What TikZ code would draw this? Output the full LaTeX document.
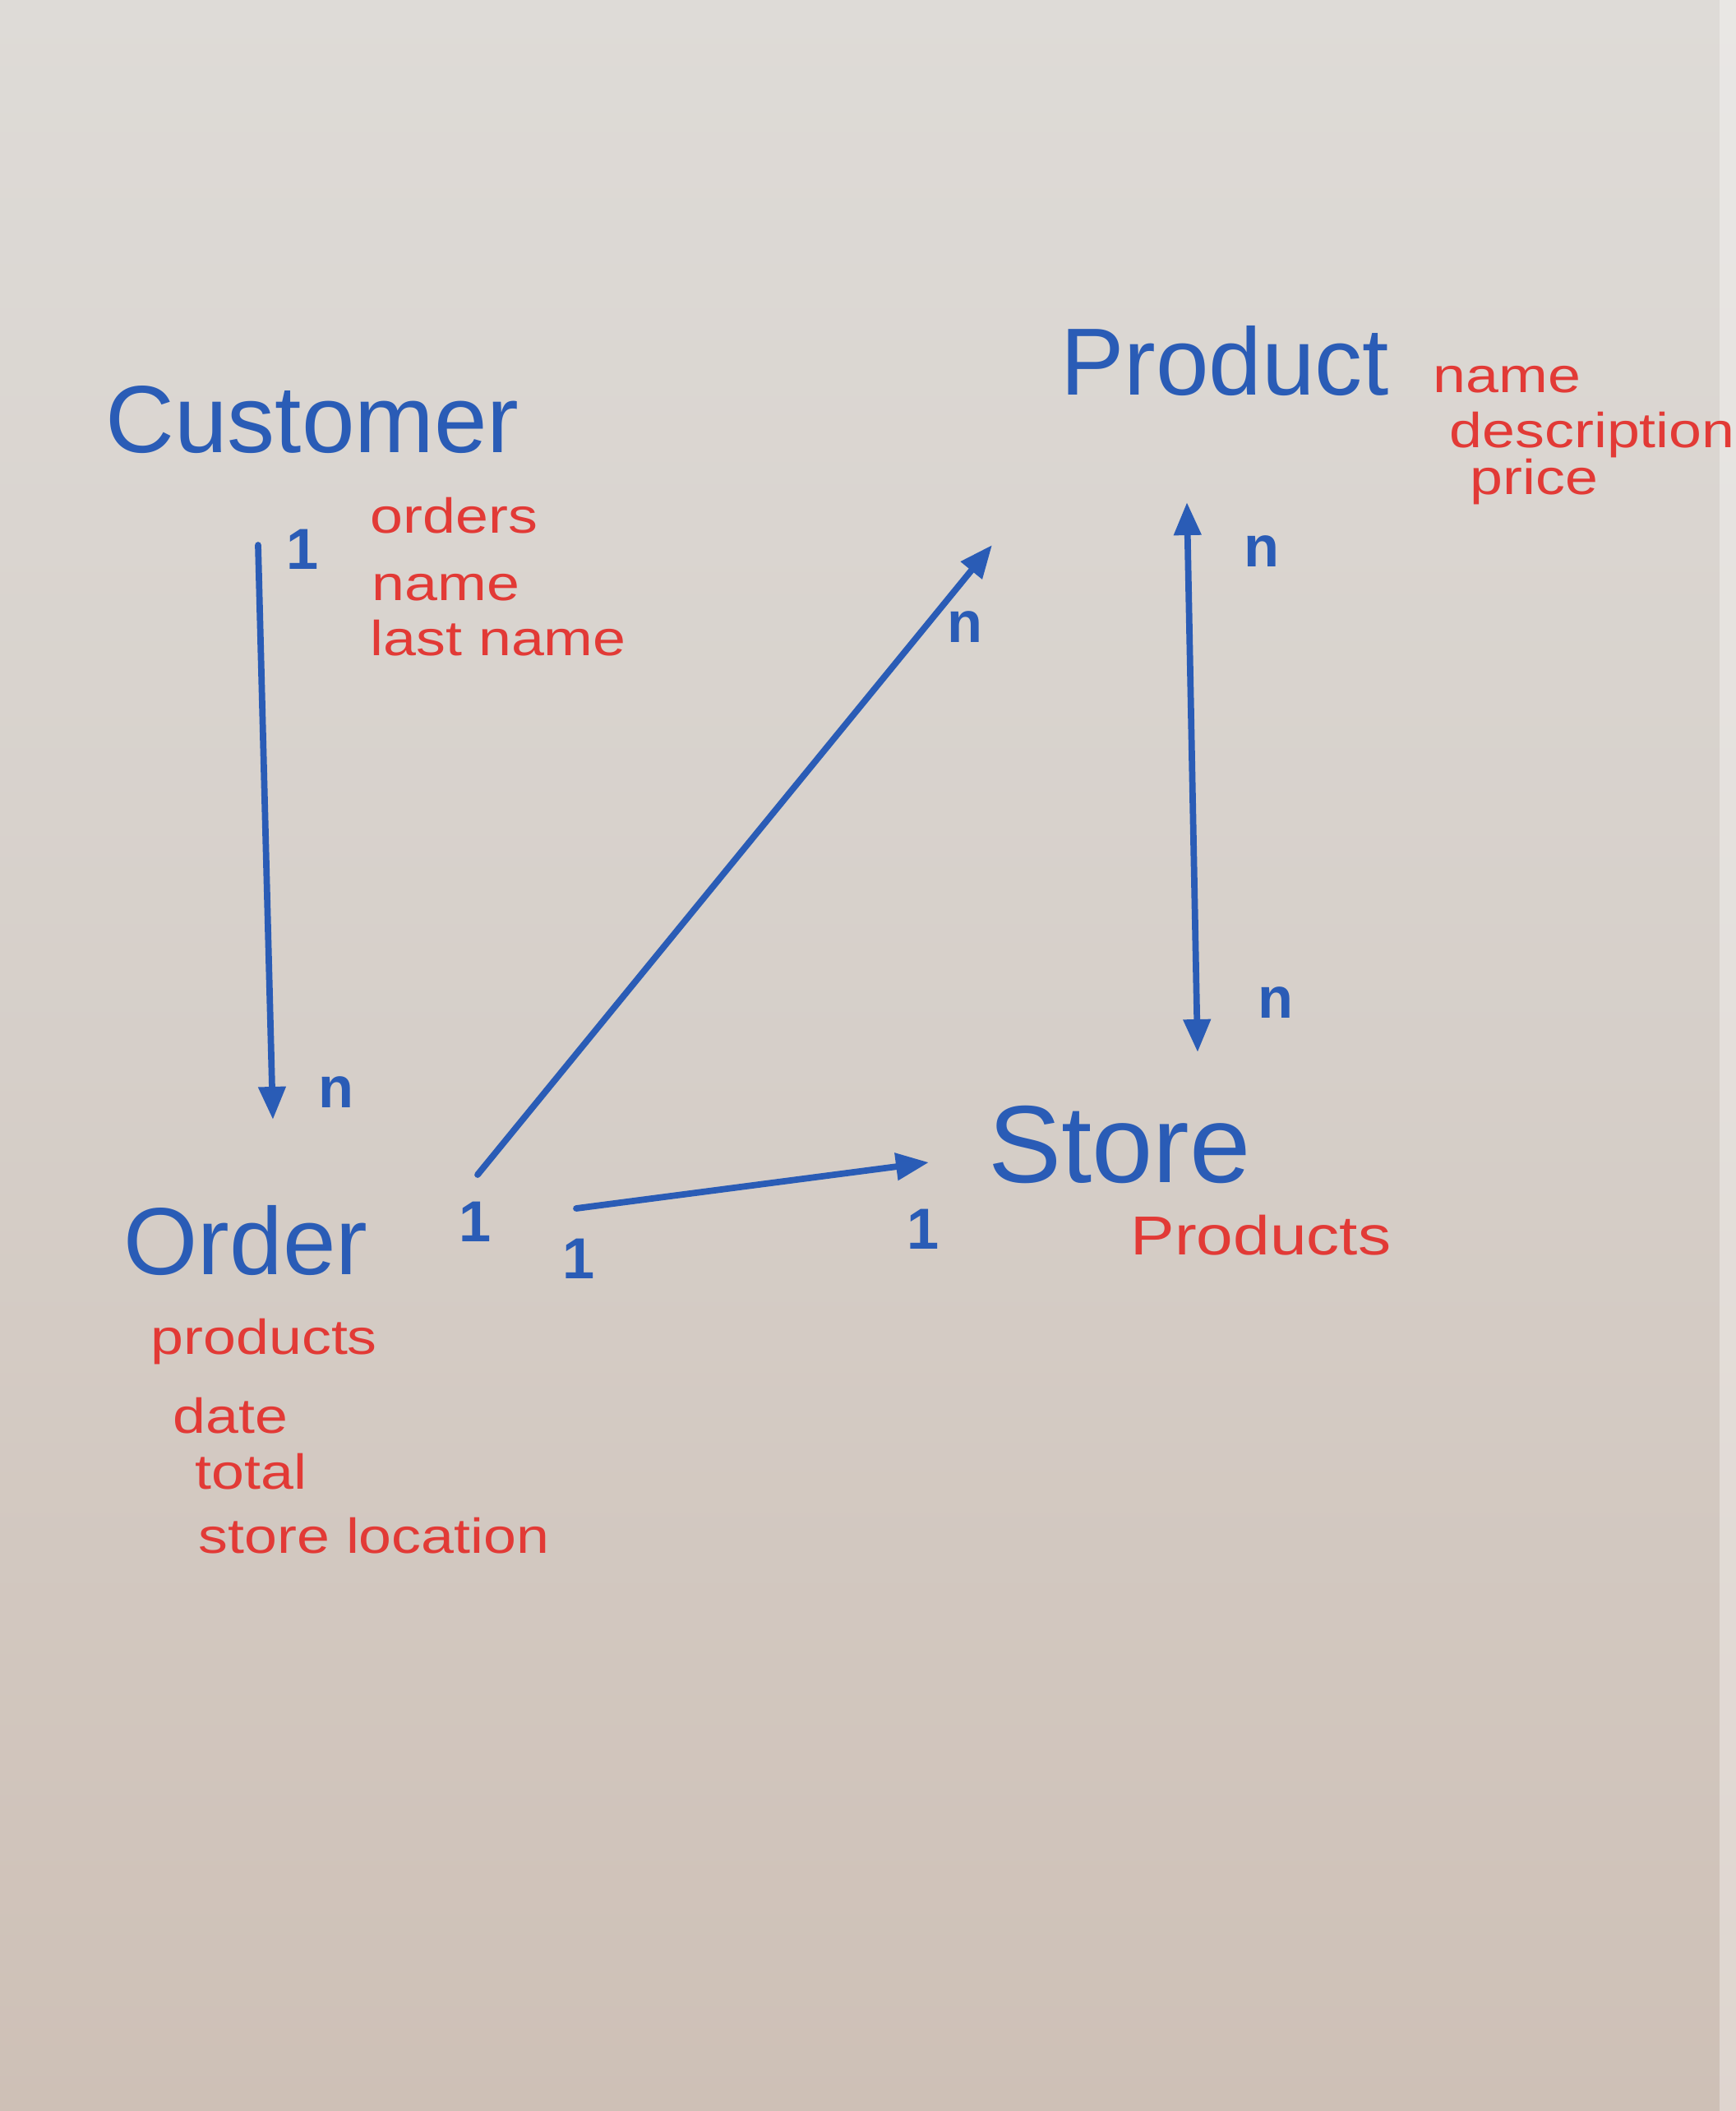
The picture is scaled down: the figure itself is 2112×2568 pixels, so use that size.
\documentclass[tikz,border=0pt]{standalone}
\usepackage{fontspec}
\setmainfont{Liberation Sans}
\newfontfamily\widefont[FakeStretch=1.2]{Liberation Sans}
\usetikzlibrary{arrows.meta}
\definecolor{markerblue}{RGB}{42,92,182}
\definecolor{markerred}{RGB}{226,58,54}
\definecolor{boardtop}{RGB}{222,219,215}
\definecolor{boardmid}{RGB}{214,207,201}
\definecolor{boardbot}{RGB}{206,192,182}
\begin{document}
\begin{tikzpicture}[x=0.01cm,y=-0.01cm,
  entity/.style={text=markerblue,inner sep=0pt,font=\fontsize{33}{38}\selectfont},
  attr/.style={text=markerred,inner sep=0pt,anchor=west,font=\widefont\fontsize{17}{20}\selectfont},
  card/.style={text=markerblue,inner sep=0pt,font=\bfseries\fontsize{20}{24}\selectfont},
  rel/.style={draw=markerblue,line width=2.2pt,line cap=round,-{Triangle[length=0.4cm,width=0.32cm]}},
  relboth/.style={draw=markerblue,line width=2.2pt,line cap=round,{Triangle[length=0.4cm,width=0.32cm]}-{Triangle[length=0.4cm,width=0.32cm]}}
]
\useasboundingbox (0,0) rectangle (2112,2568);
\shade[top color=boardtop,bottom color=boardbot,middle color=boardmid] (0,0) rectangle (2112,2568);
\fill[white,opacity=0.35] (2092,0) rectangle (2112,2568);

% entities
\node[entity] (customer) at (380,511) {Customer};
\node[entity] (order) at (299,1509) {Order};
\node[entity] (product) at (1490,439) {Product};
\node[entity,font=\fontsize{38}{44}\selectfont] (store) at (1362,1392) {Store};

% attributes
\node[attr] (corders) at (450,627) {orders};
\node[attr] (cname) at (452,715) {name};
\node[attr] (clast) at (450,776) {last name};

\node[attr] (oproducts) at (183,1632) {products};
\node[attr] (odate) at (210,1722) {date};
\node[attr] (ototal) at (237,1790) {total};
\node[attr] (oloc) at (241,1868) {store location};

\node[attr] (pname) at (1743,462) {name};
\node[attr] (pdesc) at (1763,529) {description};
\node[attr] (pprice) at (1788,586) {price};

\node[attr,font=\widefont\fontsize{19}{23}\selectfont] (sproducts) at (1375,1503) {Products};

% connector end points
\coordinate (c1) at (314,663);
\coordinate (o1) at (332,1362);
\coordinate (o2) at (581,1429);
\coordinate (p1) at (1207,663);
\coordinate (o3) at (701,1470);
\coordinate (s1) at (1130,1414);
\coordinate (p2) at (1444,611);
\coordinate (s2) at (1457,1280);

% connectors
\draw[rel] (c1) -- (o1);
\draw[rel] (o2) -- (p1);
\draw[rel] (o3) -- (s1);
\draw[relboth] (p2) -- (s2);

% cardinalities
\node[card] (k1) at (368,668) {1};
\node[card] (k2) at (409,1329) {n};
\node[card] (k3) at (578,1486) {1};
\node[card] (k4) at (1174,763) {n};
\node[card] (k5) at (704,1531) {1};
\node[card] (k6) at (1123,1495) {1};
\node[card] (k7) at (1535,671) {n};
\node[card] (k8) at (1552,1220) {n};
\end{tikzpicture}
\end{document}
